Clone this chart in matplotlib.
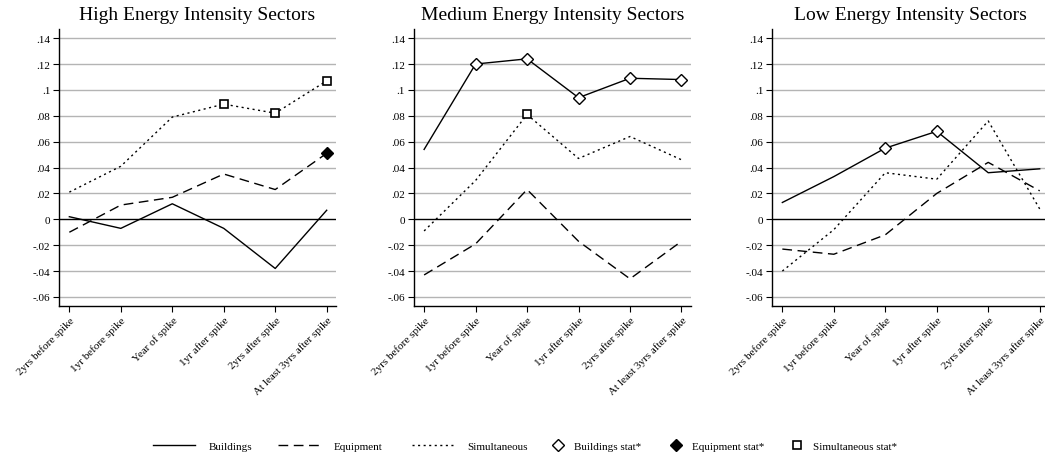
import matplotlib
matplotlib.use("Agg")
import matplotlib.pyplot as plt
from matplotlib.lines import Line2D

plt.rcParams['font.family'] = ['Liberation Serif', 'DejaVu Serif']

periods = ["2yrs before spike", "1yr before spike", "Year of spike",
           "1yr after spike", "2yrs after spike", "At least 3yrs after spike"]
titles = ["High Energy Intensity Sectors", "Medium Energy Intensity Sectors",
          "Low Energy Intensity Sectors"]

# High
high_buildings = [0.002, -0.007, 0.012, -0.007, -0.038, 0.007]
high_equipment = [-0.010, 0.011, 0.017, 0.035, 0.023, 0.051]
high_simult = [0.021, 0.041, 0.079, 0.089, 0.082, 0.107]
high_buildings_sig = [0, 0, 0, 0, 0, 0]
high_equipment_sig = [0, 0, 0, 0, 0, 1]
high_simult_sig = [0, 0, 0, 1, 1, 1]

# Medium
med_buildings = [0.054, 0.120, 0.124, 0.094, 0.109, 0.108]
med_equipment = [-0.043, -0.019, 0.023, -0.017, -0.046, -0.017]
med_simult = [-0.009, 0.030, 0.081, 0.047, 0.064, 0.046]
med_buildings_sig = [0, 1, 1, 1, 1, 1]
med_equipment_sig = [0, 0, 0, 0, 0, 0]
med_simult_sig = [0, 0, 1, 0, 0, 0]

# Low
low_buildings = [0.013, 0.033, 0.055, 0.068, 0.036, 0.039]
low_equipment = [-0.023, -0.027, -0.012, 0.020, 0.044, 0.022]
low_simult = [-0.040, -0.008, 0.036, 0.031, 0.076, 0.008]
low_buildings_sig = [0, 0, 1, 1, 0, 0]
low_equipment_sig = [0, 0, 0, 0, 0, 0]
low_simult_sig = [0, 0, 0, 0, 0, 0]

panels = [
    (high_buildings, high_equipment, high_simult, high_buildings_sig, high_equipment_sig, high_simult_sig),
    (med_buildings, med_equipment, med_simult, med_buildings_sig, med_equipment_sig, med_simult_sig),
    (low_buildings, low_equipment, low_simult, low_buildings_sig, low_equipment_sig, low_simult_sig),
]

yticks = [-0.06, -0.04, -0.02, 0, 0.02, 0.04, 0.06, 0.08, 0.1, 0.12, 0.14]
ylabels = ["-.06", "-.04", "-.02", "0", ".02", ".04", ".06", ".08", ".1", ".12", ".14"]

DASH = (0, (7, 4))
DOT = (0, (1.5, 2.5))

fig = plt.figure(figsize=(10.45, 4.6), dpi=100)
lefts = [0.0565, 0.396, 0.7388]

x = list(range(len(periods)))
for i, (b, e, s, bs, es, ss) in enumerate(panels):
    ax = fig.add_axes([lefts[i], 0.3326, 0.265, 0.602])
    for yv in yticks:
        if yv == 0:
            ax.axhline(0, color="black", lw=1.0, zorder=1)
        else:
            ax.axhline(yv, color="#b4b4b4", lw=1.0, zorder=0)
    ax.plot(x, b, color="black", lw=1.0, ls="-")
    ax.plot(x, e, color="black", lw=1.0, ls=DASH)
    ax.plot(x, s, color="black", lw=1.0, ls=DOT)
    for xi in x:
        if bs[xi]:
            ax.plot(xi, b[xi], marker="D", ms=6, mfc="white", mec="black", mew=1.0, zorder=5)
        if es[xi]:
            ax.plot(xi, e[xi], marker="D", ms=6, mfc="black", mec="black", mew=1.0, zorder=5)
        if ss[xi]:
            ax.plot(xi, s[xi], marker="s", ms=5.5, mfc="white", mec="black", mew=1.2, zorder=5)
    ax.set_xlim(-0.2, 5.18)
    ax.set_ylim(-0.067, 0.147)
    ax.set_yticks(yticks)
    ax.set_yticklabels(ylabels, fontsize=8)
    ax.set_xticks(x)
    ax.set_xticklabels(periods, rotation=45, ha="right", rotation_mode="anchor", fontsize=8)
    ax.tick_params(axis="both", direction="out", length=4.3, width=0.8, color="black", pad=2)
    ax.spines["top"].set_visible(False)
    ax.spines["right"].set_visible(False)
    ax.spines["left"].set_linewidth(1.0)
    ax.spines["bottom"].set_linewidth(1.0)
    ax.set_title(titles[i], fontsize=14, pad=7.5)

# legend, one entry at a time so the spacing follows the original
handles = [
    Line2D([], [], color="black", lw=1.0, ls="-"),
    Line2D([], [], color="black", lw=1.0, ls=DASH),
    Line2D([], [], color="black", lw=1.0, ls=DOT),
    Line2D([], [], color="black", ls="none", marker="D", ms=6, mfc="white", mew=1.0),
    Line2D([], [], color="black", ls="none", marker="D", ms=6, mfc="black", mew=1.0),
    Line2D([], [], color="black", ls="none", marker="s", ms=5.5, mfc="white", mew=1.2),
]
names = ["Buildings", "Equipment", "Simultaneous", "Buildings stat*", "Equipment stat*", "Simultaneous stat*"]
leg_x = [153, 278, 412, 551, 669, 790]
for k in range(6):
    is_line = k < 3
    leg = fig.legend([handles[k]], [names[k]], loc="center left",
                     bbox_to_anchor=(leg_x[k] / 1045, 0.028), frameon=False, fontsize=8,
                     borderpad=0, borderaxespad=0,
                     handlelength=3.8 if is_line else 1.2,
                     handletextpad=1.17 if is_line else 0.88)

fig.savefig("out.png", dpi=100)
